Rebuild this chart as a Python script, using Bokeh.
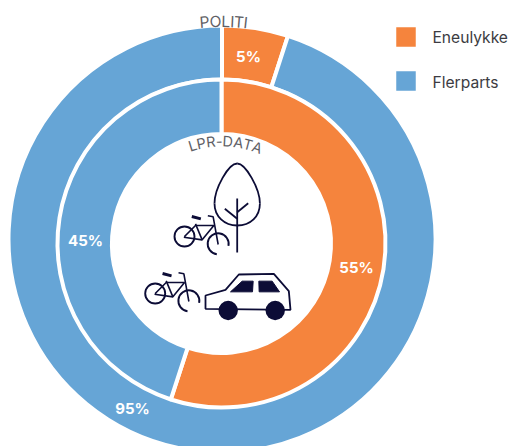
import numpy as np
from bokeh.plotting import figure
from bokeh.models import Range1d
from bokeh.core.properties import value
from bokeh.embed import file_html
from bokeh.resources import INLINE

categories = ["Eneulykke", "Flerparts"]
politi = [5, 95]
lpr = [55, 45]
colors = ["#F5843D", "#66A5D6"]
ink = "#0C0C36"
W, H = 510, 446
FONT = "Inter"

p = figure(width=W, height=H, x_range=Range1d(0, W), y_range=Range1d(0, H),
           output_backend="svg", toolbar_location=None, min_border=0, outline_line_color=None)
p.axis.visible = False
p.grid.visible = False
p.background_fill_color = "white"
p.border_fill_color = "white"


def Y(y):
    return H - y


def ring(vals, cx, cy, r0, r1):
    v = np.array(vals, float)
    cum = np.concatenate([[0], np.cumsum(v)]) / v.sum()
    a = np.pi / 2 - 2 * np.pi * cum
    p.annular_wedge(x=[cx] * len(v), y=[Y(cy)] * len(v), inner_radius=r0, outer_radius=r1,
                    start_angle=a[:-1], end_angle=a[1:], direction="clock",
                    fill_color=colors, line_color="white", line_width=4)


ring(politi, 221.5, 238.5, 159.5, 213.5)
ring(lpr, 221, 243, 109.5, 164)


def curved(txt, widths, cx, cy, R, size, mid=0.0):
    total = sum(widths)
    pos = -total / 2
    for ch, w in zip(txt, widths):
        th = mid + (pos + w / 2) / R
        pos += w
        p.text(x=[cx + R * np.sin(th)], y=[Y(cy) + R * np.cos(th)], text=[ch], angle=-th,
               text_align="center", text_baseline="middle", text_font=value(FONT),
               text_font_size=size, text_color="#5f5f66")


curved("POLITI", [10, 12, 8.5, 4.5, 9, 4.5], 221.5, 238.5, 217.5, "15.5px", 0.008)
curved("LPR-DATA", [8.5, 9.5, 10, 6.5, 11, 10.5, 9, 10.5], 221.5, 242, 101.5, "14.5px", 0.035)

labels = ["5%", "55%", "45%", "95%"]
lx = [248, 356, 85, 132]
ly = [56, 267, 240, 408]
p.text(x=lx, y=[Y(v) for v in ly], text=labels, text_align="center", text_baseline="middle",
       text_font=value(FONT), text_font_style="bold", text_font_size="15px", text_color="white")

# legend
p.rect(x=[405.5, 405.5], y=[Y(36.5), Y(80.5)], width=19.5, height=19.5, fill_color=colors, line_color=None)
p.text(x=[432, 432], y=[Y(37), Y(82)], text=categories, text_baseline="middle",
       text_font=value(FONT), text_font_size="15.6px", text_color="#3c3c42")

# tree
tx = 236.7
p.bezier(x0=[tx, 214, tx, 259.4], y0=[Y(163), Y(203), Y(225), Y(203)],
         x1=[214, tx, 259.4, tx], y1=[Y(203), Y(225), Y(203), Y(163)],
         cx0=[228, 214, 250, 259.4], cy0=[Y(163), Y(216), Y(225), Y(188)],
         cx1=[214, 224, 259.4, 245], cy1=[Y(188), Y(225), Y(216), Y(163)],
         line_color=ink, line_width=1.8)
p.multi_line(xs=[[tx, tx], [224.3, tx], [247.7, tx]],
             ys=[[Y(198), Y(252)], [Y(208.3), Y(218.3)], [Y(202.7), Y(211.7)]],
             line_color=ink, line_width=1.8)


def bike(dx, dy):
    def px(v): return 130 + v / 3 + dx
    def py(v): return Y(130 + v / 3 + dy)
    segs = [[(162, 318), (195, 285), (250, 285), (215, 328), (160, 320)],
            [(195, 280), (215, 328)],
            [(232, 256), (248, 259), (263, 342)]]
    p.multi_line(xs=[[px(a) for a, _ in s] for s in segs], ys=[[py(b) for _, b in s] for s in segs],
                 line_color=ink, line_width=1.6)
    p.line(x=[px(184), px(211)], y=[py(258), py(265)], line_color=ink, line_width=3)
    p.arc(x=[px(162)], y=[py(318)], radius=10, start_angle=0, end_angle=2 * np.pi, line_color=ink, line_width=1.9)
    p.arc(x=[px(263)], y=[py(340)], radius=10.5, start_angle=-0.2, end_angle=-1.7, direction="anticlock",
          line_color=ink, line_width=1.9)


bike(0, 0)
bike(-29.3, 57)

# car
cxs = [225, 285, 325, 430, 475, 480, 225]
cys = [495, 478, 432, 430, 482, 538, 535]
p.patch(x=[130 + v / 3 for v in cxs], y=[Y(130 + v / 3) for v in cys], fill_color="white",
        line_color=ink, line_width=1.8)
wx = [[300, 335, 368, 366], [385, 425, 447, 386]]
wy = [[484, 452, 452, 484], [452, 452, 484, 484]]
p.patches(xs=[[130 + v / 3 for v in s] for s in wx], ys=[[Y(130 + v / 3) for v in s] for s in wy],
          fill_color=ink, line_color=ink)
p.circle(x=[227.7, 274.7], y=[Y(310), Y(310)], radius=9.7, fill_color=ink, line_color=None)

open("out.html", "w").write(file_html(p, INLINE))
